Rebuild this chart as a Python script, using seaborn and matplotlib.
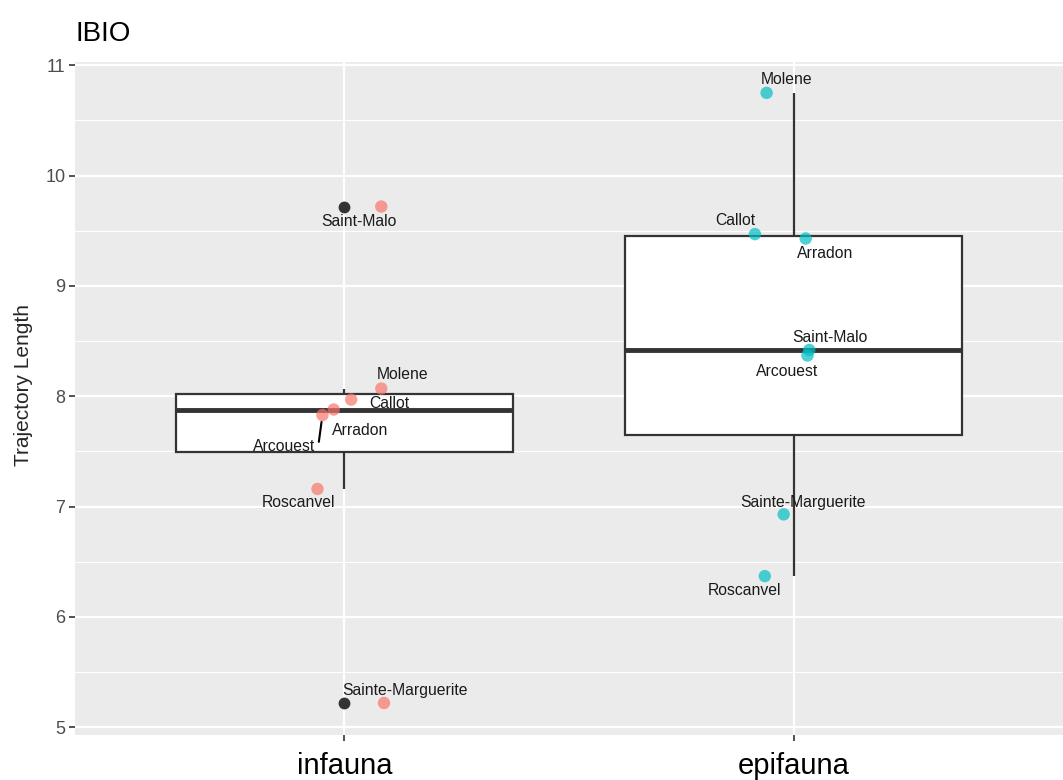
import matplotlib
matplotlib.use('Agg')
from matplotlib import pyplot as plt
from matplotlib.ticker import MultipleLocator
import pandas as pd
import seaborn as sns

# data
groups = ['infauna', 'epifauna']
sites = ['Saint-Malo', 'Molene', 'Callot', 'Arradon', 'Arcouest',
         'Roscanvel', 'Sainte-Marguerite']
infauna_length = [9.72, 8.07, 7.97, 7.88, 7.83, 7.16, 5.22]
epifauna_length = [8.42, 10.75, 9.47, 9.43, 8.37, 6.37, 6.93]
# horizontal jitter of the points (category units)
infauna_jitter = [0.082, 0.082, 0.015, -0.024, -0.049, -0.060, 0.088]
epifauna_jitter = [0.035, -0.060, -0.086, 0.027, 0.031, -0.064, -0.022]

palette = {'infauna': '#F8766D', 'epifauna': '#00BFC4'}

# label placement (pixels from the point), like ggrepel put them
label_offsets = {
    ('infauna', 'Saint-Malo'): (-22, -15),
    ('infauna', 'Molene'): (21, 14),
    ('infauna', 'Callot'): (38, -4),
    ('infauna', 'Arradon'): (26, -21),
    ('infauna', 'Arcouest'): (-38, -31),
    ('infauna', 'Roscanvel'): (-19, -14),
    ('infauna', 'Sainte-Marguerite'): (21, 13),
    ('epifauna', 'Saint-Malo'): (21, 12),
    ('epifauna', 'Molene'): (20, 13),
    ('epifauna', 'Callot'): (-20, 14),
    ('epifauna', 'Arradon'): (19, -15),
    ('epifauna', 'Arcouest'): (-20, -16),
    ('epifauna', 'Roscanvel'): (-20, -14),
    ('epifauna', 'Sainte-Marguerite'): (19, 12),
}
segment_labels = [('infauna', 'Arcouest')]

rows = []
for i, (group, values, jitter) in enumerate(
        zip(groups, [infauna_length, epifauna_length],
            [infauna_jitter, epifauna_jitter])):
    for site, value, jit in zip(sites, values, jitter):
        rows.append({'group': group, 'site': site, 'length': value,
                     'xpos': i + jit})
df = pd.DataFrame(rows)

sns.set_theme(style='darkgrid',
              rc={'axes.facecolor': '#EBEBEB',
                  'grid.color': 'white'})
plt.rcParams['font.family'] = ['Liberation Sans', 'DejaVu Sans']

fig = plt.figure(figsize=(10.63, 7.80), dpi=100)
ax = fig.add_axes([75 / 1063, 45 / 780, 988 / 1063, 673 / 780])

sns.boxplot(data=df, x='group', y='length', order=groups, width=0.75,
            color='white', linecolor='#333333', linewidth=1.6,
            showcaps=False,
            medianprops=dict(linewidth=3.5, color='#333333'),
            flierprops=dict(marker='o', markerfacecolor='#333333',
                            markeredgecolor='none', markersize=8.5),
            ax=ax)
sns.scatterplot(data=df, x='xpos', y='length', hue='group',
                palette=palette, alpha=0.7, s=80, edgecolor='none',
                legend=False, ax=ax, zorder=3)

for _, r in df.iterrows():
    key = (r['group'], r['site'])
    dx, dy = label_offsets[key]
    arrow = None
    if key in segment_labels:
        arrow = dict(arrowstyle='-', color='black', lw=1.5, shrinkA=0,
                     shrinkB=5, relpos=(1.05, 0.7))
    ax.annotate(r['site'], (r['xpos'], r['length']), xytext=(dx, dy),
                textcoords='offset pixels', ha='center', va='center',
                fontsize=11.3, color='#1A1A1A', arrowprops=arrow, zorder=4)

ax.set_xlim(-0.6, 1.6)
ax.set_ylim(4.93, 11.03)
ax.yaxis.set_major_locator(MultipleLocator(1))
ax.yaxis.set_minor_locator(MultipleLocator(0.5))
ax.grid(which='major', color='white', linewidth=1.6)
ax.grid(which='minor', axis='y', color='white', linewidth=0.8)
ax.tick_params(axis='both', which='major', length=4, width=1.2,
               color='#333333', direction='out', bottom=True, left=True)
ax.tick_params(axis='y', which='minor', length=0)
ax.tick_params(axis='y', labelsize=13, labelcolor='#4D4D4D', pad=3)
ax.tick_params(axis='x', labelsize=21, labelcolor='black', pad=8)
ax.set_xlabel('')
ax.set_ylabel('Trajectory Length', fontsize=15)
ax.yaxis.set_label_coords(-0.043, 0.52)
sns.despine(ax=ax, left=True, bottom=True)

fig.text(76 / 1063, 1 - 34 / 780, 'IBIO', fontsize=20, va='center',
         ha='left', color='black')

plt.savefig('out.png', dpi=100)
plt.close()
